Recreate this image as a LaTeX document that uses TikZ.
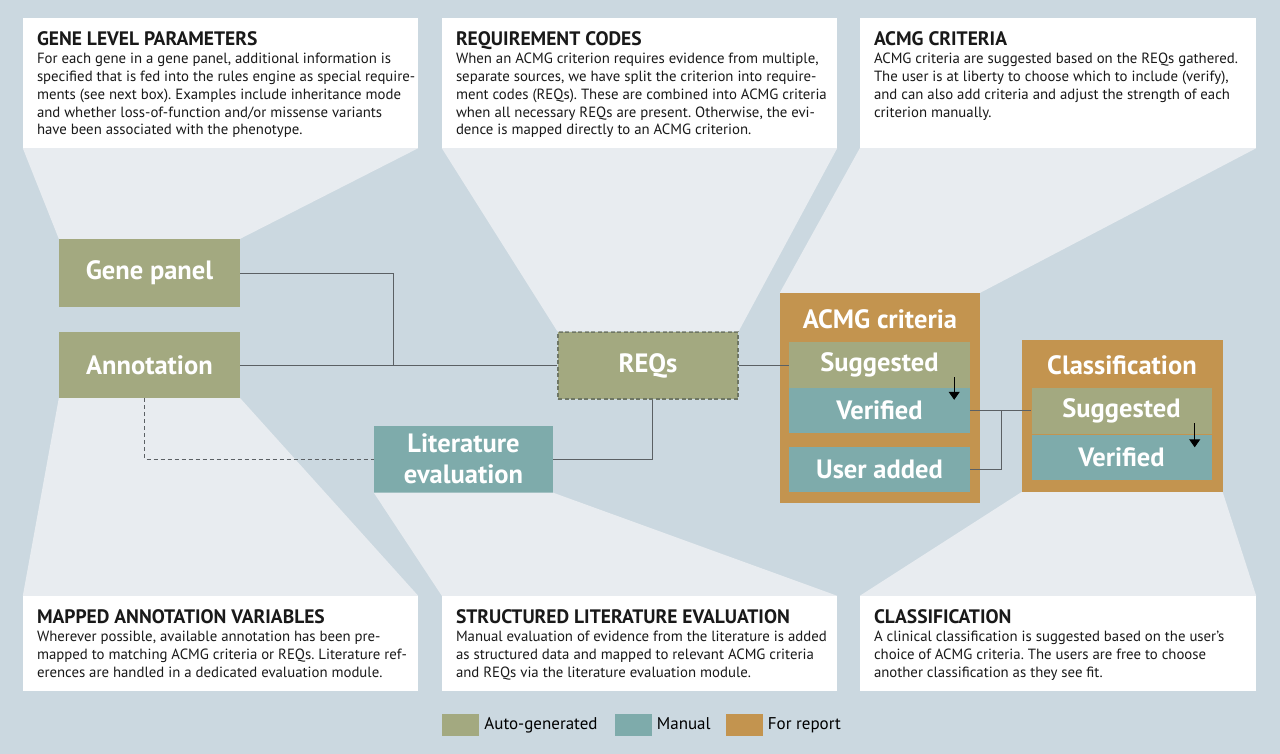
\documentclass[tikz,border=0pt]{standalone}
\usepackage{fontspec}
\setmainfont{PT Sans}
\usetikzlibrary{arrows.meta,positioning}
\frenchspacing

\definecolor{bgblue}{HTML}{CBD8E0}
\definecolor{wedge}{HTML}{E8ECF0}
\definecolor{autogen}{HTML}{A3A980}
\definecolor{manual}{HTML}{7EABAB}
\definecolor{report}{HTML}{C3944F}
\definecolor{wire}{HTML}{5B6064}
\definecolor{reqline}{HTML}{6E7664}

\newcommand{\head}[1]{{\bfseries\fontsize{19.5}{17.8}\selectfont #1}}

\begin{document}
\begin{tikzpicture}[x=1pt,y=-1pt,
	box/.style={rectangle, inner sep=0pt, minimum width=181pt, minimum height=67pt, text=white, align=center, font=\bfseries\fontsize{26.5}{30.5}\selectfont},
	autobox/.style={box, fill=autogen},
	manbox/.style={box, fill=manual},
	repbox/.style={rectangle, inner sep=0pt, fill=report},
	info/.style={rectangle, inner sep=0pt, fill=white, minimum width=395pt},
	blurb/.style={anchor=north west, align=left, inner sep=0pt, text=black!90, font=\fontsize{14.8}{17.8}\selectfont},
	wire/.style={draw=wire, line width=0.9pt},
	swatch/.style={rectangle, inner sep=0pt, minimum width=37pt, minimum height=22pt},
	legtext/.style={anchor=west, inner sep=0pt, text height=12pt, text depth=4pt, font=\fontsize{17}{19}\selectfont}]

	\useasboundingbox (0,0) rectangle (1280,754);
	\fill[bgblue] (0,0) rectangle (1280,754);

	% text boxes
	\draw (220.5,83) node [info, minimum height=130pt] (info1) {};
	\draw (639.5,83) node [info, minimum height=130pt] (info2) {};
	\draw (1058,83) node [info, minimum height=130pt, minimum width=396pt] (info3) {};
	\draw (220.5,643.5) node [info, minimum height=95pt] (info4) {};
	\draw (639.5,643.5) node [info, minimum height=95pt] (info5) {};
	\draw (1058,643.5) node [info, minimum height=95pt, minimum width=396pt] (info6) {};

	\node [blurb] (txt1) at ([shift={(14pt,-14pt)}]info1.north west) {\head{GENE LEVEL PARAMETERS}\\
		For each gene in a gene panel, additional information is\\
		specified that is fed into the rules engine as special require-\\
		ments (see next box). Examples include inheritance mode\\
		and whether loss-of-function and/or missense variants\\
		have been associated with the phenotype.};
	\node [blurb] (txt2) at ([shift={(14pt,-14pt)}]info2.north west) {\head{REQUIREMENT CODES}\\
		When an ACMG criterion requires evidence from multiple,\\
		separate sources, we have split the criterion into require-\\
		ment codes (REQs). These are combined into ACMG criteria\\
		when all necessary REQs are present. Otherwise, the evi-\\
		dence is mapped directly to an ACMG criterion.};
	\node [blurb] (txt3) at ([shift={(14pt,-14pt)}]info3.north west) {\head{ACMG CRITERIA}\\
		ACMG criteria are suggested based on the REQs gathered.\\
		The user is at liberty to choose which to include (verify),\\
		and can also add criteria and adjust the strength of each\\
		criterion manually.};
	\node [blurb] (txt4) at ([shift={(14pt,-14pt)}]info4.north west) {\head{MAPPED ANNOTATION VARIABLES}\\
		Wherever possible, available annotation has been pre-\\
		mapped to matching ACMG criteria or REQs. Literature ref-\\
		erences are handled in a dedicated evaluation module.};
	\node [blurb] (txt5) at ([shift={(14pt,-14pt)}]info5.north west) {\head{STRUCTURED LITERATURE EVALUATION}\\
		Manual evaluation of evidence from the literature is added\\
		as structured data and mapped to relevant ACMG criteria\\
		and REQs via the literature evaluation module.};
	\node [blurb] (txt6) at ([shift={(14pt,-14pt)}]info6.north west) {\head{CLASSIFICATION}\\
		A clinical classification is suggested based on the user’s\\
		choice of ACMG criteria. The users are free to choose\\
		another classification as they see fit.};

	% diagram
	\draw (149.5,273) node [autobox, minimum height=68pt] (gene) {Gene panel};
	\draw (149.5,365) node [autobox, minimum height=66pt] (annot) {Annotation};
	\draw (463.5,459) node [manbox, minimum width=179pt] (lit) {Literature\\evaluation};
	\draw (648,365.5) node [autobox, minimum width=180pt, draw=reqline, line width=1.3pt, dash pattern=on 4pt off 2.5pt] (reqs) {REQs};

	\draw (880,398) node [repbox, minimum width=200pt, minimum height=210pt] (acmg) {};
	\node [box, minimum height=40pt] (acmgT) at (880,319) {ACMG criteria};
	\draw (879.5,365) node [autobox, minimum height=46pt] (sugA) {Suggested};
	\draw (879.5,410.5) node [manbox, minimum height=45pt] (verA) {Verified};
	\draw (879.5,469.5) node [manbox, minimum height=45pt] (userA) {User added};

	\draw (1122,416) node [repbox, minimum width=201pt, minimum height=152pt] (clsf) {};
	\node [box, minimum height=40pt] (clsfT) at (1122,365) {Classification};
	\draw (1121.5,411) node [autobox, minimum width=180pt, minimum height=46pt] (sugB) {Suggested};
	\draw (1121.5,457) node [manbox, minimum width=180pt, minimum height=45pt] (verB) {Verified};

	% callout wedges
	\fill[wedge] (info1.south west) -- (info1.south east) -- (gene.north east) -- (gene.north west) -- cycle;
	\fill[wedge] (info2.south west) -- (info2.south east) -- (reqs.north east) -- (reqs.north west) -- cycle;
	\fill[wedge] (info3.south west) -- (info3.south east) -- (acmg.north east) -- (acmg.north west) -- cycle;
	\fill[wedge] (annot.south west) -- (annot.south east) -- (info4.north east) -- (info4.north west) -- cycle;
	\fill[wedge] (lit.south west) -- (lit.south east) -- (info5.north east) -- (info5.north west) -- cycle;
	\fill[wedge] (clsf.south west) -- (clsf.south east) -- (info6.north east) -- (info6.north west) -- cycle;

	% connectors
	\coordinate (join) at (393,365);
	\coordinate (merge) at (1001,411);
	\draw[wire] (gene.east) -| (join);
	\draw[wire] (annot.east) -- (annot.east -| reqs.west);
	\draw[wire] (lit.east) -| ([xshift=4pt]reqs.south);
	\draw[wire, dashed, dash pattern=on 4pt off 3pt] ([xshift=-5pt]annot.south) |- (lit.west);
	\draw[wire] (reqs.east) -- (reqs.east -| sugA.west);
	\draw[wire] (verA.east) -- (verA.east -| sugB.west);
	\draw[wire] (userA.east) -| (merge);

	\draw[line width=1pt, -{Triangle[width=11pt,length=8pt]}] ([shift={(-16pt,11pt)}]sugA.south east) -- ([shift={(-16pt,-12pt)}]verA.north east);
	\draw[line width=1pt, -{Triangle[width=11pt,length=8pt]}] ([shift={(-17pt,11pt)}]sugB.south east) -- ([shift={(-17pt,-13pt)}]verB.north east);

	% legend
	\draw (460.5,725) node [swatch, fill=autogen] (keyA) {};
	\node [legtext, right=5pt of keyA] (keyAt) {Auto-generated};
	\draw (633,725) node [swatch, fill=manual] (keyM) {};
	\node [legtext, right=5pt of keyM] (keyMt) {Manual};
	\draw (744,725) node [swatch, fill=report] (keyR) {};
	\node [legtext, right=5pt of keyR] (keyRt) {For report};
\end{tikzpicture}
\end{document}
